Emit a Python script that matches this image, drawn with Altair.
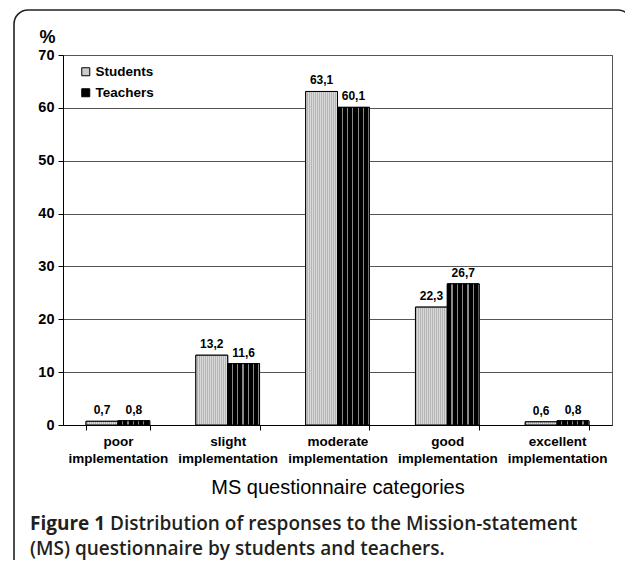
import altair as alt
import pandas as pd

categories = ["poor implementation", "slight implementation", "moderate implementation",
              "good implementation", "excellent implementation"]
groups = ["Students", "Teachers"]
students = [0.7, 13.2, 63.1, 22.3, 0.6]
teachers = [0.8, 11.6, 60.1, 26.7, 0.8]
y_ticks = [0, 10, 20, 30, 40, 50, 60, 70]
x_title = "MS questionnaire categories"
caption_bold = "Figure 1"
caption_line1 = "Distribution of responses to the Mission-statement"
caption_line2 = "(MS) questionnaire by students and teachers."

rows = []
for c, s, t in zip(categories, students, teachers):
    rows.append({"category": c, "group": "Students", "value": s})
    rows.append({"category": c, "group": "Teachers", "value": t})
df = pd.DataFrame(rows)

FONT = "Liberation Sans"

# stripe textures via hard-stop gradients
def stripes(n, c1, c2, frac):
    stops = []
    for k in range(n):
        a = k / n
        b = (k + frac) / n
        e = (k + 1) / n
        stops += [alt.GradientStop(color=c1, offset=a), alt.GradientStop(color=c1, offset=b),
                  alt.GradientStop(color=c2, offset=b), alt.GradientStop(color=c2, offset=e)]
    return alt.Gradient(gradient="linear", stops=stops, x1=0, x2=1, y1=0, y2=0)

teacher_fill = stripes(6, "#000000", "#8a8a8a", 0.78)
student_fill = stripes(16, "#dadada", "#b4b4b4", 0.5)

x_enc = alt.X("category:N", sort=categories,
              scale=alt.Scale(paddingInner=0.42, paddingOuter=0.21),
              axis=alt.Axis(title=x_title, labelExpr="split(datum.label, ' ')",
                            labelAngle=0, tickBand="extent", grid=False,
                            labelFont=FONT, labelFontSize=13.5, labelFontWeight="bold",
                            labelColor="#000", labelLineHeight=17, labelPadding=4,
                            tickSize=5, tickColor="#000", domainColor="#000",
                            titleFont=FONT, titleFontSize=20, titleFontWeight="normal",
                            titleColor="#000", titleY=68, titleBaseline="alphabetic"))
xo_enc = alt.XOffset("group:N", sort=groups, scale=alt.Scale(paddingInner=0, paddingOuter=0))
y_enc = alt.Y("value:Q", scale=alt.Scale(domain=[0, 70], nice=False),
              axis=alt.Axis(title="%", values=y_ticks, grid=True, gridColor="#555",
                            gridWidth=1, labelFont=FONT, labelFontSize=14.5,
                            labelFontWeight="bold", labelColor="#000", labelPadding=4,
                            tickSize=5, tickColor="#000", domainColor="#000",
                            titleFont=FONT, titleFontSize=18, titleFontWeight="bold",
                            titleColor="#000", titleAngle=0, titleX=-24, titleY=-13,
                            titleAlign="left", titleBaseline="alphabetic"))

base = alt.Chart(df)

bars = base.mark_bar(stroke="#000", strokeWidth=1).encode(
    x=x_enc, xOffset=xo_enc, y=y_enc,
    color=alt.Color("group:N", sort=groups,
                    scale=alt.Scale(domain=groups, range=["#cccccc", "#000000"]),
                    legend=alt.Legend(title=None, orient="none", legendX=16, legendY=10,
                                      symbolType="square", symbolSize=64,
                                      symbolStrokeColor="#000", symbolStrokeWidth=1,
                                      labelFont=FONT, labelFontSize=13.5,
                                      labelFontWeight="bold", labelColor="#000",
                                      rowPadding=6, labelOffset=3)),
)

stud_tex = base.transform_filter(alt.datum.group == "Students").mark_bar(
    fill=student_fill, stroke="#000", strokeWidth=1).encode(x=x_enc, xOffset=xo_enc, y=y_enc)
teach_tex = base.transform_filter(alt.datum.group == "Teachers").mark_bar(
    fill=teacher_fill, stroke="#000", strokeWidth=1).encode(x=x_enc, xOffset=xo_enc, y=y_enc)

labels = base.transform_calculate(
    lab="replace(format(datum.value, '.1f'), '.', ',')"
).mark_text(font=FONT, fontSize=12, fontWeight="bold", color="#000",
            baseline="alphabetic", dy=-7).encode(
    x=x_enc, xOffset=xo_enc, y=y_enc, text="lab:N")

one = alt.Chart(pd.DataFrame({"k": [0]}))
frame = one.mark_rect(filled=False, stroke="#222", strokeWidth=1.6, cornerRadius=14).encode(
    x=alt.value(-49), x2=alt.value(569), y=alt.value(-45), y2=alt.value(545))

CAP = "Open Sans"
cap1 = one.mark_text(text=caption_bold, font=CAP, fontSize=19, fontWeight="bold",
                     color="#231f20", align="left", baseline="alphabetic").encode(
    x=alt.value(-33), y=alt.value(475))
cap2 = one.mark_text(text=caption_line1, font=CAP, fontSize=19, fontWeight=600,
                     color="#231f20", align="left", baseline="alphabetic").encode(
    x=alt.value(47), y=alt.value(475))
cap3 = one.mark_text(text=caption_line2, font=CAP, fontSize=19, fontWeight=600,
                     color="#231f20", align="left", baseline="alphabetic").encode(
    x=alt.value(-33), y=alt.value(500))

chart = alt.layer(frame, bars, stud_tex, teach_tex, labels, cap1, cap2, cap3).properties(
    width=549, height=370,
    autosize=alt.AutoSizeParams(type="none"),
    padding={"left": 55, "top": 47, "right": 13, "bottom": 135},
).configure_view(stroke="#555", strokeWidth=1)

chart.save("out.html", embed_options={"renderer": "svg", "actions": False})
